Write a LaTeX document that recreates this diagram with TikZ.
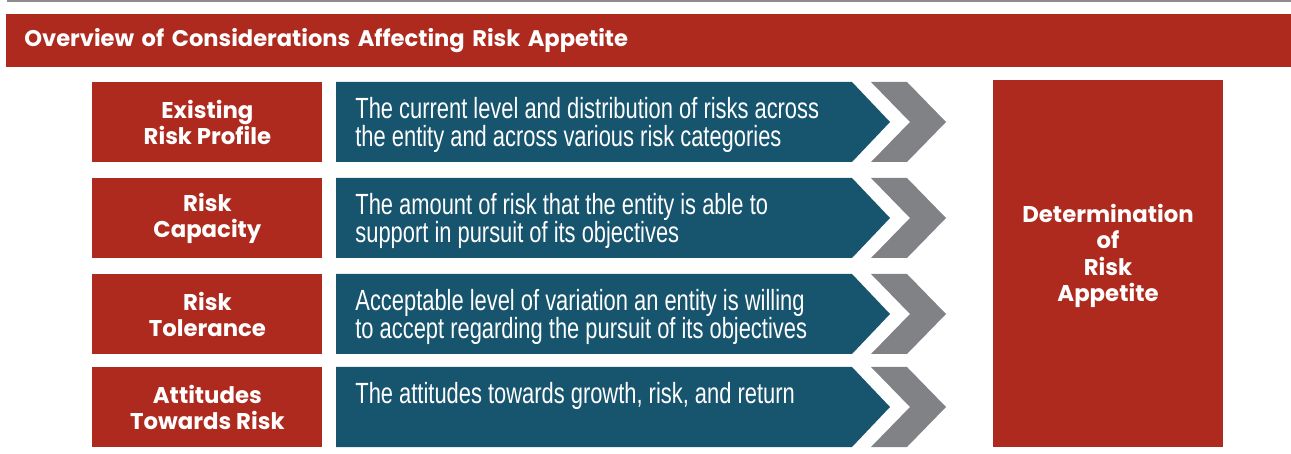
\documentclass[tikz,border=0pt]{standalone}
\usepackage{fontspec}
\setmainfont{Liberation Sans}
\newfontfamily\labelFont{Poppins}
\newfontfamily\descFont{Liberation Sans}[FakeStretch=0.75]
\usetikzlibrary{positioning}
\definecolor{riskRed}{HTML}{AE2A1E}
\definecolor{riskBlue}{HTML}{17546E}
\definecolor{chevronGray}{HTML}{808285}
\definecolor{ruleGray}{HTML}{8C8C8C}

\begin{document}
\begin{tikzpicture}[x=0.5pt,y=-0.5pt]

          \tikzstyle{labelBox} = [fill=riskRed, text=white, anchor=north west, inner sep=0pt, minimum width=115pt, minimum height=40pt, align=center, font=\labelFont\bfseries\fontsize{11.4}{13.3}\selectfont];
          \tikzstyle{descText} = [text=white, anchor=north west, inner sep=0pt, align=left, font=\descFont\fontsize{14.6}{14.2}\selectfont];
          \tikzstyle{descShape} = [fill=riskBlue];
          \tikzstyle{chevron} = [fill=chevronGray];

          \useasboundingbox (0,0) rectangle (1291,454);

          % title bar
          \draw[ruleGray, line width=1pt] (7,1.5) -- (1291,1.5);
          \node[fill=riskRed, text=white, anchor=north west, inner xsep=9pt, inner ysep=0pt, minimum height=26.5pt, text width=624.5pt, align=left, font=\labelFont\bfseries\fontsize{11.3}{14}\selectfont] (title) at (6,14) {Overview of Considerations Affecting Risk Appetite};

          % left labels
          \node[labelBox] (profile) at (92,82) {Existing\\Risk Profile};
          \node[labelBox] (capacity) at (92,178) {Risk\\Capacity};
          \node[labelBox] (tolerance) at (92,274) {Risk\\Tolerance};
          \node[labelBox] (attitudes) at (92,367) {Attitudes\\Towards Risk};

          % blue descriptions
          \fill[descShape] (336,82) -- ++(516,0) -- ++(38,40) -- ++(-38,40) -- ++(-516,0) -- cycle;
          \fill[descShape] (336,178) -- ++(516,0) -- ++(38,40) -- ++(-38,40) -- ++(-516,0) -- cycle;
          \fill[descShape] (336,274) -- ++(516,0) -- ++(38,40) -- ++(-38,40) -- ++(-516,0) -- cycle;
          \fill[descShape] (336,367) -- ++(516,0) -- ++(38,40) -- ++(-38,40) -- ++(-516,0) -- cycle;

          \node[descText] (profileText) at (355,97) {The current level and distribution of risks across\\the entity and across various risk categories};
          \node[descText] (capacityText) at (355,193) {The amount of risk that the entity is able to\\support in pursuit of its objectives};
          \node[descText] (toleranceText) at (355,289) {Acceptable level of variation an entity is willing\\to accept regarding the pursuit of its objectives};
          \node[descText] (attitudesText) at (355,382) {The attitudes towards growth, risk, and return};

          % chevrons
          \fill[chevron] (871,82) -- ++(36,0) -- ++(39,40) -- ++(-39,40) -- ++(-36,0) -- ++(39,-40) -- cycle;
          \fill[chevron] (871,178) -- ++(36,0) -- ++(39,40) -- ++(-39,40) -- ++(-36,0) -- ++(39,-40) -- cycle;
          \fill[chevron] (871,274) -- ++(36,0) -- ++(39,40) -- ++(-39,40) -- ++(-36,0) -- ++(39,-40) -- cycle;
          \fill[chevron] (871,367) -- ++(36,0) -- ++(39,40) -- ++(-39,40) -- ++(-36,0) -- ++(39,-40) -- cycle;

          % result
          \node[labelBox, minimum height=183.5pt] (appetite) at (993,80) {};
          \node[text=white, align=center, inner sep=0pt, font=\labelFont\bfseries\fontsize{11.4}{13.3}\selectfont] (appetiteText) at (1108,256) {Determination\\of\\Risk\\Appetite};
        \end{tikzpicture}
\end{document}
